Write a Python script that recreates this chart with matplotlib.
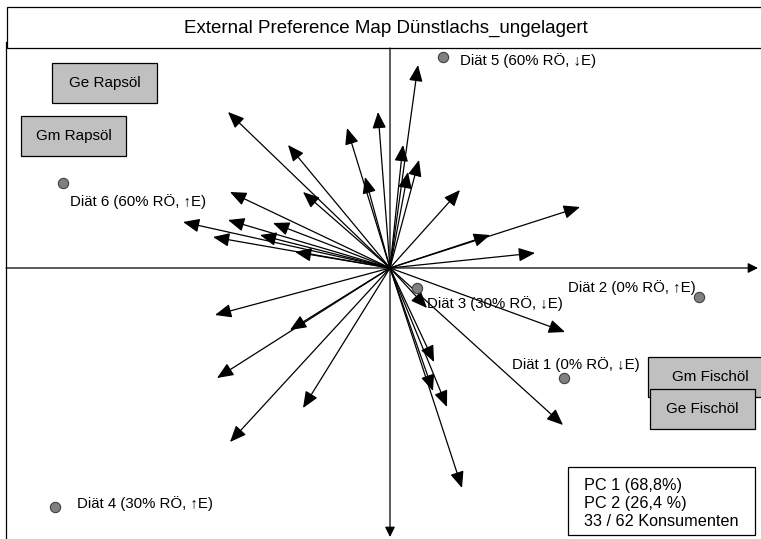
import matplotlib.pyplot as plt
from matplotlib.patches import Rectangle

plt.rcParams['font.family'] = ['Liberation Sans', 'DejaVu Sans']

# Konsumenten-Vektoren (Spitzen der Pfeile, PC1 / PC2)
cons_x = [-1.62, -1.02, -0.43, -0.12, -0.25, -0.87, -1.60, -2.07, -1.62, -1.17,
          -1.77, -1.30, -0.95, 0.28, 0.13, 0.18, 0.29, 0.70, 1.90, 1.00,
          1.45, 1.75, 1.73, 0.37, 0.44, 0.43, 0.57, 0.72, -1.75, -1.00,
          -1.73, -0.87, -1.60]
cons_y = [1.56, 1.23, 1.40, 1.56, 0.91, 0.76, 0.76, 0.46, 0.48, 0.45,
          0.31, 0.33, 0.16, 2.03, 1.23, 0.96, 1.08, 0.78, 0.61, 0.33,
          0.15, -0.64, -1.57, -0.40, -0.94, -1.23, -1.39, -2.20, -0.47, -0.62,
          -1.10, -1.40, -1.74]

# Produkte
diet_names = ['Diät 1 (0% RÖ, ↓E)', 'Diät 2 (0% RÖ, ↑E)', 'Diät 3 (30% RÖ, ↓E)',
              'Diät 4 (30% RÖ, ↑E)', 'Diät 5 (60% RÖ, ↓E)', 'Diät 6 (60% RÖ, ↑E)']
diet_x = [1.74, 3.09, 0.27, -3.35, 0.53, -3.27]
diet_y = [-1.10, -0.29, -0.20, -2.39, 2.11, 0.85]
label_off = [(-52, 13), (-131, 9), (10, -16), (22, 3), (17, -4), (7, -19)]

# Sensorische Attribute (Geruch / Geschmack)
attr_names = ['Ge Rapsöl', 'Gm Rapsöl', 'Gm Fischöl', 'Ge Fischöl']
attr_x = [-2.855, -3.165, 3.16, 3.12]
attr_y = [1.85, 1.32, -1.09, -1.41]

legend_lines = ['PC 1 (68,8%)', 'PC 2 (26,4 %)', '33 / 62 Konsumenten']
title = 'External Preference Map Dünstlachs_ungelagert'

fig = plt.figure(figsize=(7.61, 5.39), dpi=100)
ax = fig.add_axes([0, 0, 1, 1])
ax.set_xlim(-3.90, 3.71)
ax.set_ylim(-2.71, 2.68)
ax.axis('off')

# Achsen
ax.annotate('', xy=(3.68, 0), xytext=(-3.84, 0),
            arrowprops=dict(arrowstyle='-|>,head_length=0.6,head_width=0.3',
                            mutation_scale=10, lw=0.9, color='black', shrinkA=0, shrinkB=0))
ax.annotate('', xy=(0, -2.69), xytext=(0, 2.20),
            arrowprops=dict(arrowstyle='-|>,head_length=0.6,head_width=0.3',
                            mutation_scale=10, lw=0.9, color='black', shrinkA=0, shrinkB=0))

# Konsumenten-Pfeile
for x, y in zip(cons_x, cons_y):
    ax.annotate('', xy=(x, y), xytext=(0, 0),
                arrowprops=dict(arrowstyle='-|>,head_length=1.0,head_width=0.42',
                                mutation_scale=10, lw=0.9, color='black',
                                shrinkA=0, shrinkB=0))

# Attribut-Kästen
for name, x, y in zip(attr_names, attr_x, attr_y):
    w = 1.05 if name != 'Gm Fischöl' else 1.16
    ax.add_patch(Rectangle((x - w / 2, y - 0.20), w, 0.40, facecolor='#c0c0c0',
                           edgecolor='black', lw=0.9, zorder=3, clip_on=False))
    ax.text(x if name != 'Gm Fischöl' else x + 0.04, y, name, ha='center', va='center',
            fontsize=11, zorder=4)

# Produkte
ax.scatter(diet_x, diet_y, s=55, color='#808080', edgecolor='#404040', lw=0.8, zorder=5)
for name, x, y, off in zip(diet_names, diet_x, diet_y, label_off):
    ax.annotate(name, (x, y), xytext=off, textcoords='offset pixels',
                ha='left', va='center', fontsize=10.8, zorder=6)

# Rahmen links und Titelkasten
ax.plot([0.0079, 0.0079], [0, 0.922], transform=ax.transAxes, color='black', lw=0.9,
        clip_on=False)
ax.add_patch(Rectangle((0.0092, 0.911), 1.0, 0.076, transform=ax.transAxes,
                       facecolor='white', edgecolor='black', lw=0.9, clip_on=False))
ax.text(0.507, 0.948, title, transform=ax.transAxes, ha='center', va='center', fontsize=13.5)

# Legende
ax.add_patch(Rectangle((0.746, 0.0074), 0.246, 0.126, transform=ax.transAxes,
                       facecolor='white', edgecolor='black', lw=0.9, zorder=7))
ax.text(0.767, 0.114, '\n'.join(legend_lines), transform=ax.transAxes, ha='left', va='top',
        fontsize=11.7, linespacing=1.25, zorder=8)

fig.savefig('out.png', dpi=100)
